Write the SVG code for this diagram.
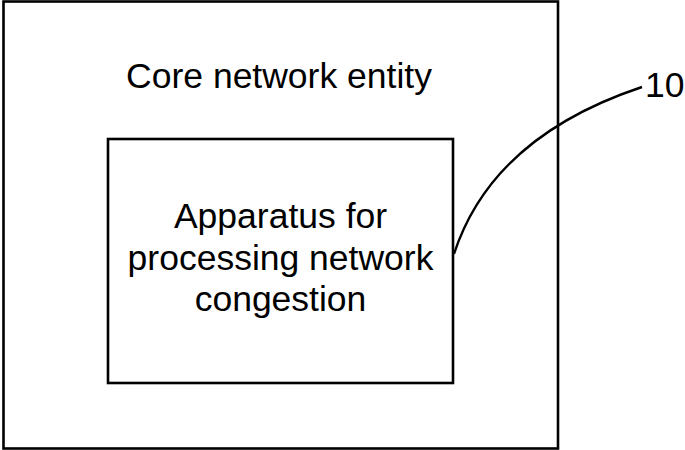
<svg xmlns="http://www.w3.org/2000/svg" width="685" height="450" viewBox="0 0 685 450">
<style>
.box{fill:none;stroke:#000;stroke-width:2.6}
.t{font-family:"Liberation Sans",Arial,sans-serif;font-size:35.5px;fill:#000;text-anchor:middle}
.lead{fill:none;stroke:#000;stroke-width:2.4}
</style>
<rect width="685" height="450" fill="#fff"/>
<g id="core-network-entity">
<rect class="box" x="3.5" y="1.5" width="554.5" height="447"/>
<text class="t" x="279" y="88">Core network entity</text>
</g>
<g id="apparatus">
<rect class="box" x="108" y="139" width="345" height="244"/>
<text class="t" x="280.5" y="228">Apparatus for</text>
<text class="t" x="280.5" y="270">processing network</text>
<text class="t" x="280.5" y="311">congestion</text>
</g>
<g id="connectors">
<path class="lead" d="M454,254 Q492,137 642,87"/>
</g>
<g id="label-10">
<text x="645" y="97" font-family="Liberation Sans, Arial, sans-serif" font-size="35.5" fill="#000">10</text>
</g>
</svg>
